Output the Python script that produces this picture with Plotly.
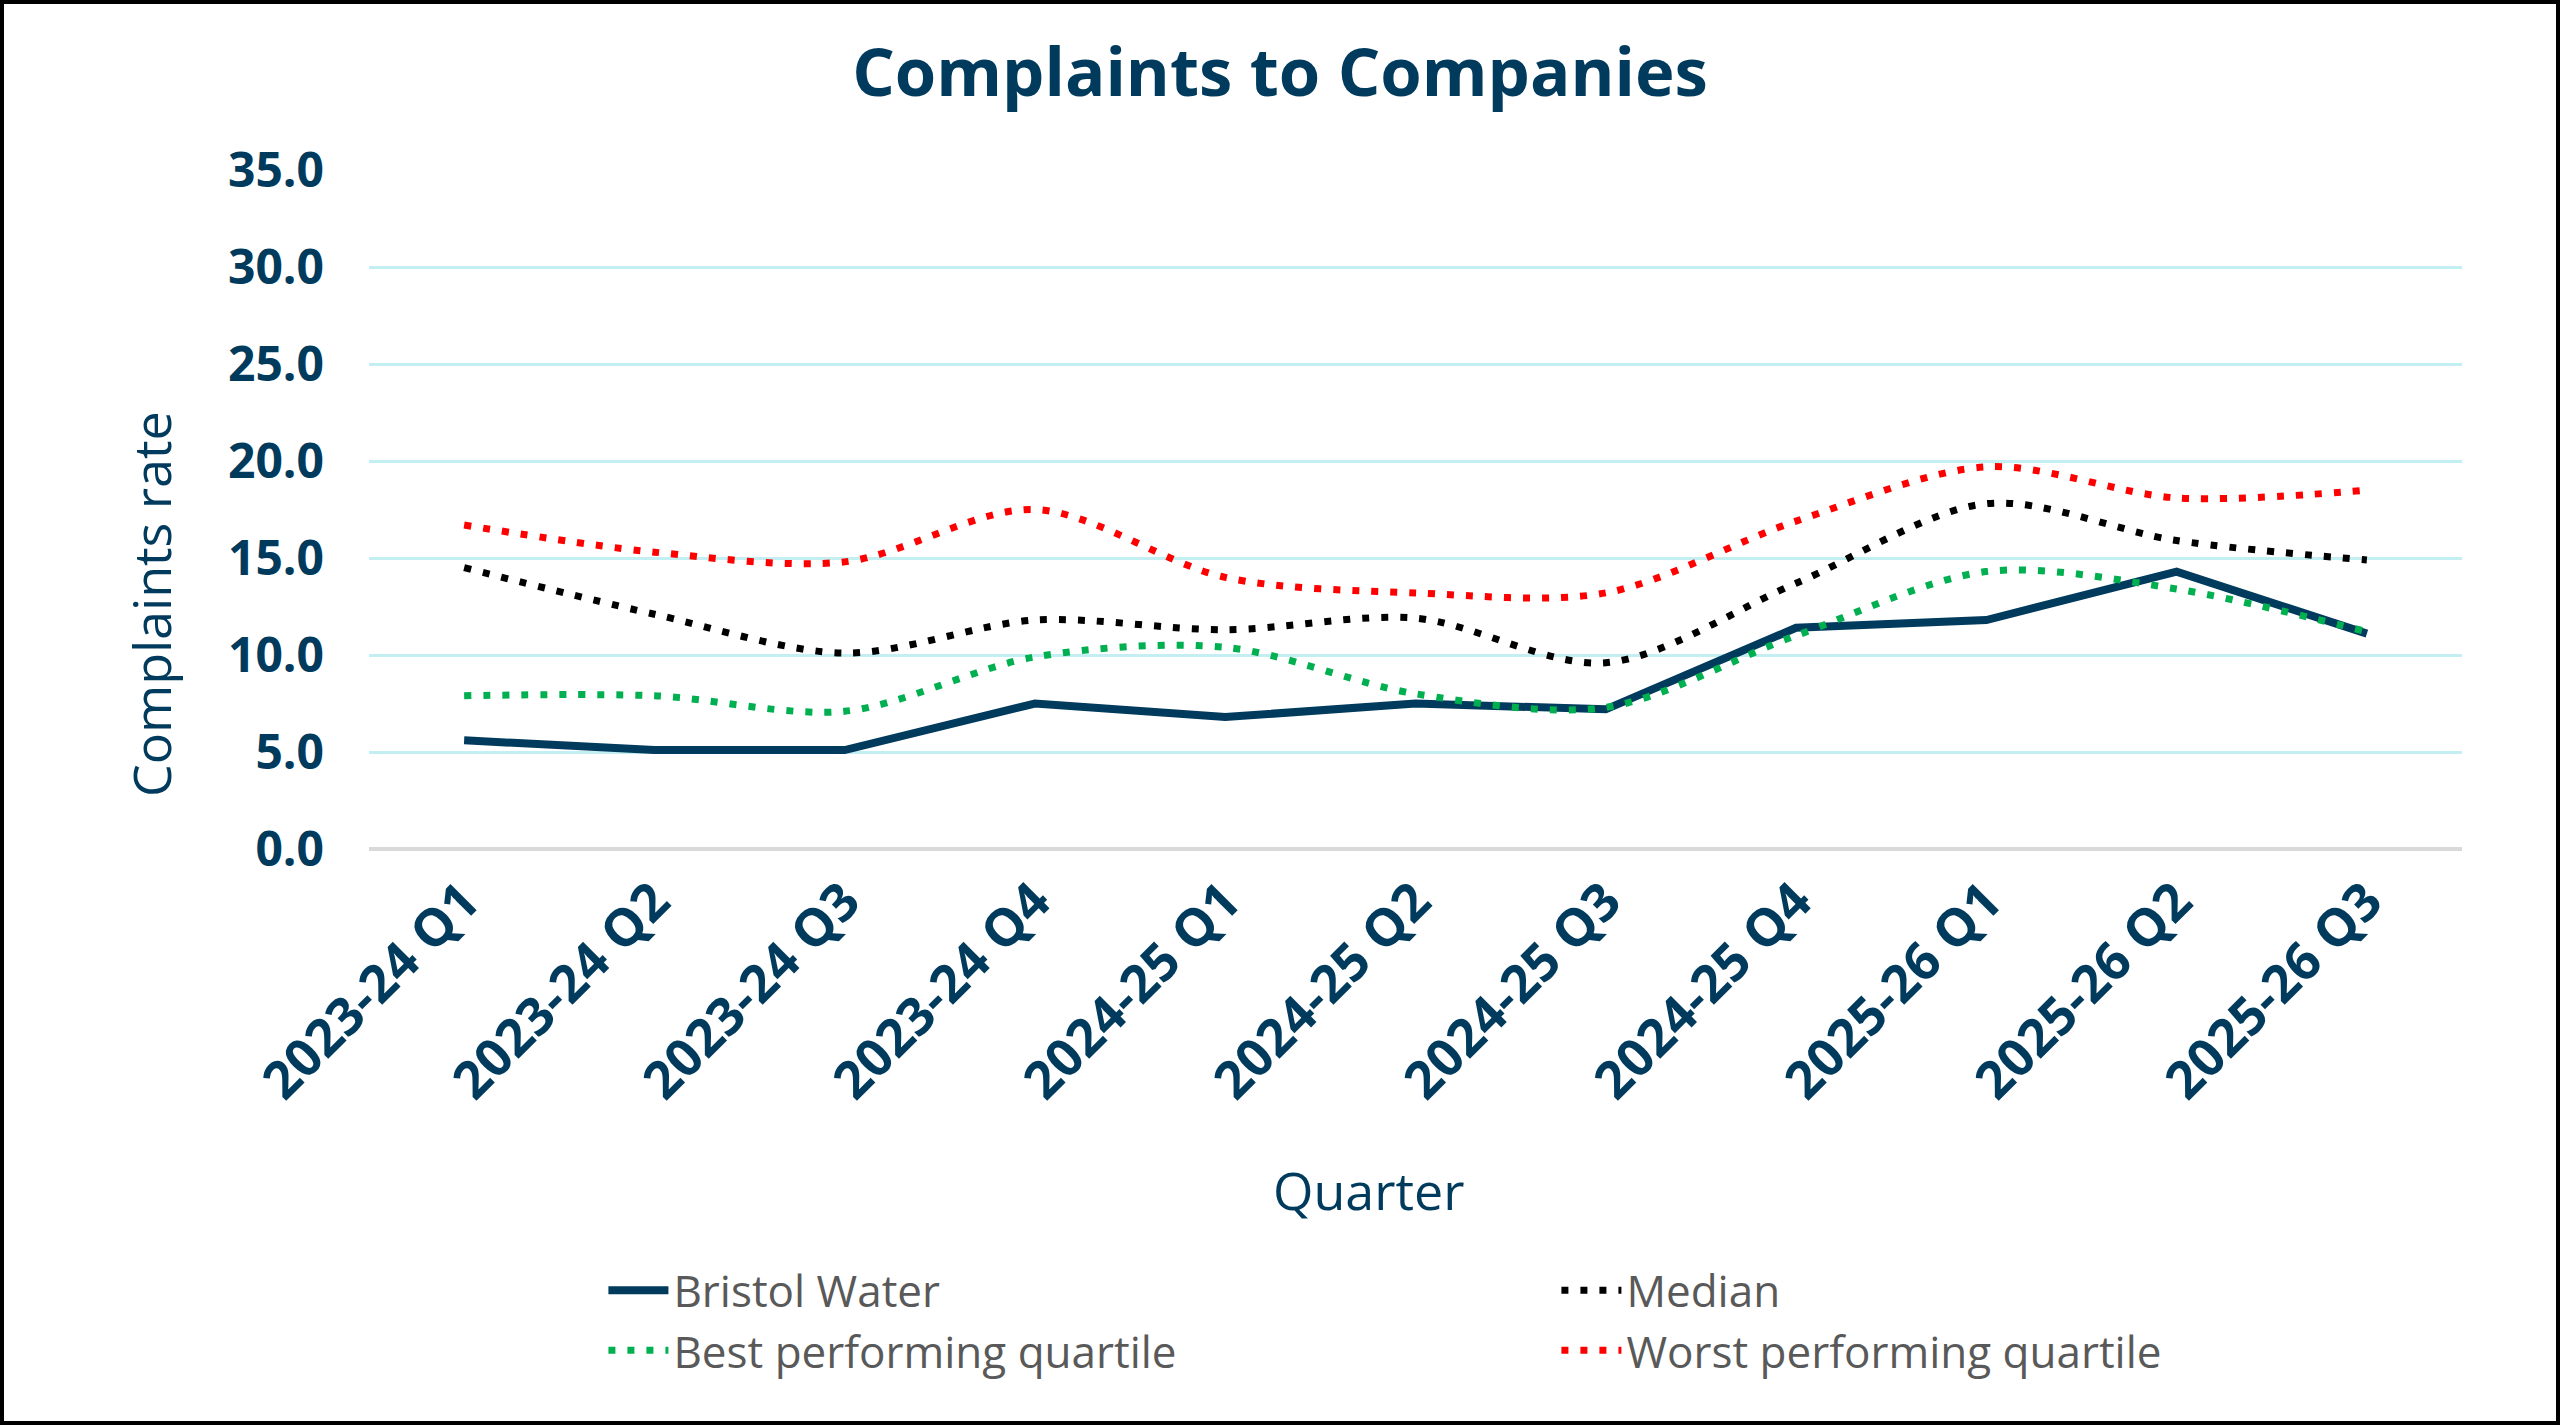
import plotly.graph_objects as go

quarters = ["2023-24 Q1", "2023-24 Q2", "2023-24 Q3", "2023-24 Q4",
            "2024-25 Q1", "2024-25 Q2", "2024-25 Q3", "2024-25 Q4",
            "2025-26 Q1", "2025-26 Q2", "2025-26 Q3"]
bristol_water = [5.6, 5.1, 5.1, 7.5, 6.8, 7.5, 7.2, 11.4, 11.8, 14.3, 11.1]
median = [14.5, 12.1, 10.1, 11.8, 11.3, 11.9, 9.6, 13.7, 17.8, 15.9, 14.9]
best_quartile = [7.9, 7.9, 7.1, 9.9, 10.4, 8.0, 7.3, 11.0, 14.3, 13.4, 11.2]
worst_quartile = [16.7, 15.3, 14.8, 17.5, 14.0, 13.2, 13.2, 16.9, 19.7, 18.1, 18.5]

NAVY = "#003A5C"
FONT = "Open Sans"

W, H = 2560, 1425
ML, MR, MT, MB = 369, 98, 170, 576
PW, PH = W - ML - MR, H - MT - MB

fig = go.Figure()
fig.add_trace(go.Scatter(x=quarters, y=bristol_water, name="Bristol Water", mode="lines",
                         line=dict(color=NAVY, width=8)))
fig.add_trace(go.Scatter(x=quarters, y=median, name="Median", mode="lines",
                         line=dict(color="#000000", width=7, dash="7px,12px", shape="spline", smoothing=0.9)))
fig.add_trace(go.Scatter(x=quarters, y=best_quartile, name="Best performing quartile", mode="lines",
                         line=dict(color="#00B050", width=7, dash="7px,12px", shape="spline", smoothing=0.9)))
fig.add_trace(go.Scatter(x=quarters, y=worst_quartile, name="Worst performing quartile", mode="lines",
                         line=dict(color="#FF0000", width=7, dash="7px,12px", shape="spline", smoothing=0.9)))

# outer border
inset = 2
fig.add_shape(type="rect", xref="paper", yref="paper", layer="above",
              x0=(-ML + inset) / PW, x1=(W - ML - inset) / PW,
              y0=-(MB - inset) / PH, y1=1 + (MT - inset) / PH,
              line=dict(color="#000000", width=4), fillcolor="rgba(0,0,0,0)")

# axis titles
fig.add_annotation(text="Complaints rate", xref="paper", yref="paper",
                   x=(150 - ML) / PW, y=(H - MB - 604) / PH, xanchor="center", yanchor="middle",
                   textangle=-90, showarrow=False, font=dict(size=52, color=NAVY, family=FONT))
fig.add_annotation(text="Quarter", xref="paper", yref="paper",
                   x=(1368 - ML) / PW, y=(H - MB - 1189) / PH, xanchor="center", yanchor="middle",
                   showarrow=False, font=dict(size=52, color=NAVY, family=FONT))

fig.update_layout(
    width=W, height=H,
    margin=dict(l=ML, r=MR, t=MT, b=MB),
    paper_bgcolor="white", plot_bgcolor="white",
    font=dict(family=FONT, color=NAVY),
    title=dict(text="Complaints to Companies", x=0.5, xref="container", xanchor="center",
               y=1 - 73 / H, yref="container", yanchor="middle",
               font=dict(size=67, color=NAVY, family=FONT, weight="bold")),
    showlegend=True,
    legend=dict(orientation="h", x=0.112, xanchor="left", y=-0.598, yanchor="top",
                font=dict(size=44, color="#595959", family=FONT),
                entrywidth=878, tracegroupgap=0, itemwidth=60),
    xaxis=dict(type="category", range=[-0.5, 10.5], tickangle=-45, showgrid=False, showline=False,
               zeroline=False,
               tickfont=dict(size=52, color=NAVY, family=FONT, weight="bold"),
               ticks="", ticklabelstandoff=10),
    yaxis=dict(range=[0, 35], dtick=5, tickformat=".1f", showgrid=True, gridcolor="#C4EFF2",
               gridwidth=3, zeroline=True, zerolinecolor="#D9D9D9", zerolinewidth=4,
               showline=False, ticks="", ticklabelstandoff=44,
               tickfont=dict(size=48, color=NAVY, family=FONT, weight="bold")),
)

fig.write_html("out.html", config={"displayModeBar": False},
               post_script="document.body.style.margin='0';")
